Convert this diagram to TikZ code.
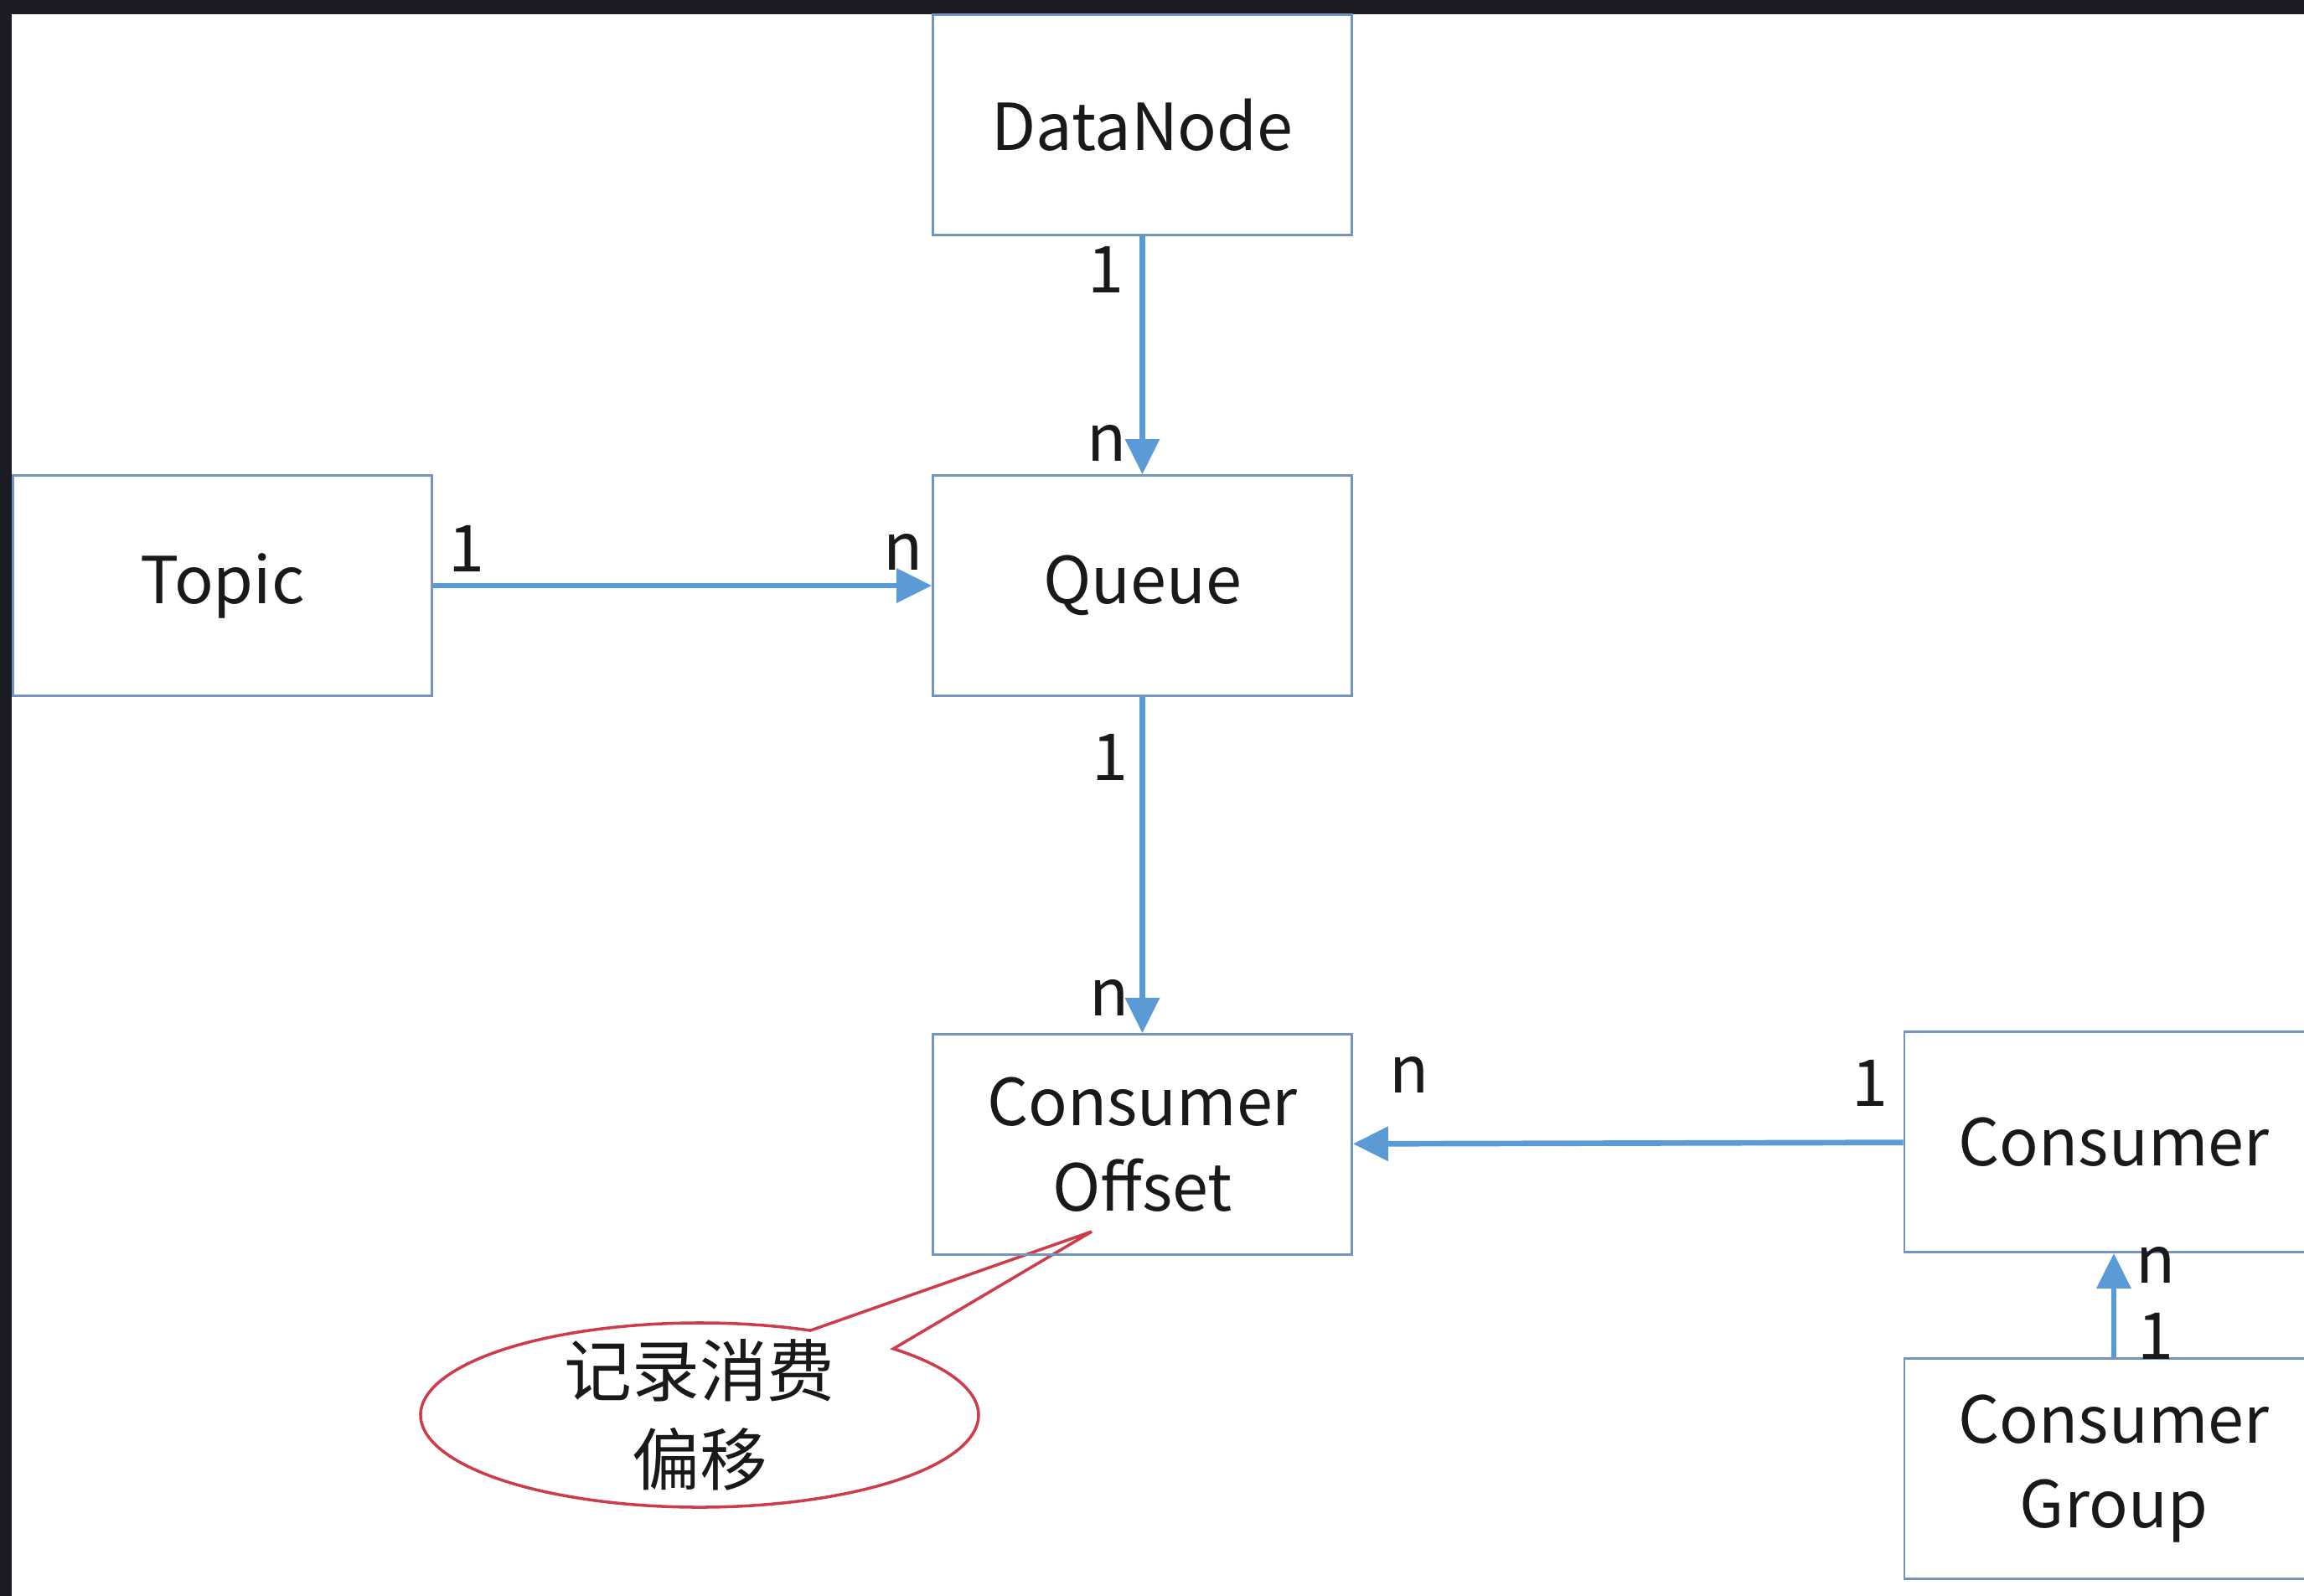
\documentclass[tikz,border=0pt]{standalone}
\usepackage{fontspec}
\setmainfont{Noto Sans CJK SC}
\usetikzlibrary{arrows.meta}
\definecolor{framec}{RGB}{26,27,35}
\definecolor{boxc}{RGB}{115,148,190}
\definecolor{arrc}{RGB}{91,155,213}
\definecolor{callc}{RGB}{205,60,75}
\definecolor{txtc}{RGB}{25,25,25}
\tikzset{
  ent/.style={draw=boxc, line width=0.8pt, minimum width=5cm, minimum height=2.63cm,
    align=center, text=txtc, font={\fontsize{22}{29}\selectfont}, inner sep=0pt},
  rel/.style={draw=arrc, line width=1.9pt, -{Triangle[width=0.4cm,length=0.42cm]}},
  mult/.style={text=txtc, font={\fontsize{22}{26}\selectfont}, inner sep=0pt},
}
\begin{document}
\begin{tikzpicture}
\useasboundingbox (0,0) rectangle (27.5,-19.05);
\fill[framec] (0,0) rectangle (27.5,-19.05);
\fill[white] (0.14,-0.17) rectangle (27.5,-19.05);

% callout (drawn first, boxes on top)
\coordinate (cc) at (8.35,-16.89);
\coordinate (tip) at (13.03,-14.70);
\draw[callc, line width=1pt, fill=white, line join=miter]
  (cc) ++(66.6:3.33 and 1.10) arc[start angle=66.6, end angle=406, x radius=3.33, y radius=1.10]
  -- (tip) -- cycle;
\node[text=txtc, align=center, font={\fontsize{23}{30}\selectfont}] (note) at (cc) {记录消费\\偏移};

\node[ent] (dn) at (13.635,-1.49) {DataNode};
\node[ent] (topic) at (2.655,-6.99) {Topic};
\node[ent] (q) at (13.635,-6.99) {Queue};
\node[ent] (off) at (13.635,-13.66) {Consumer\\Offset};
\node[ent] (cons) at (25.23,-13.63) {Consumer};
\node[ent] (grp) at (25.23,-17.53) {Consumer\\Group};

\draw[rel] (dn) -- node[mult, pos=0.14, xshift=-0.44cm] (l1) {1}
                   node[mult, pos=0.87, xshift=-0.42cm] (l2) {n} (q);
\draw[rel] (topic) -- node[mult, pos=0.067, yshift=0.44cm] (l3) {1}
                      node[mult, pos=0.943, yshift=0.40cm] (l4) {n} (q);
\draw[rel] (q) -- node[mult, pos=0.18, xshift=-0.39cm] (l5) {1}
                  node[mult, pos=0.896, xshift=-0.39cm] (l6) {n} (off);
\draw[rel] (cons) -- node[mult, pos=0.06, yshift=0.71cm] (l7) {1}
                     node[mult, pos=0.898, yshift=0.82cm] (l8) {n} (off);
\draw[rel] (grp) -- node[mult, pos=0.2, xshift=0.5cm] (l9) {1}
                    node[mult, pos=0.89, xshift=0.5cm] (l10) {n} (cons);
\end{tikzpicture}
\end{document}
